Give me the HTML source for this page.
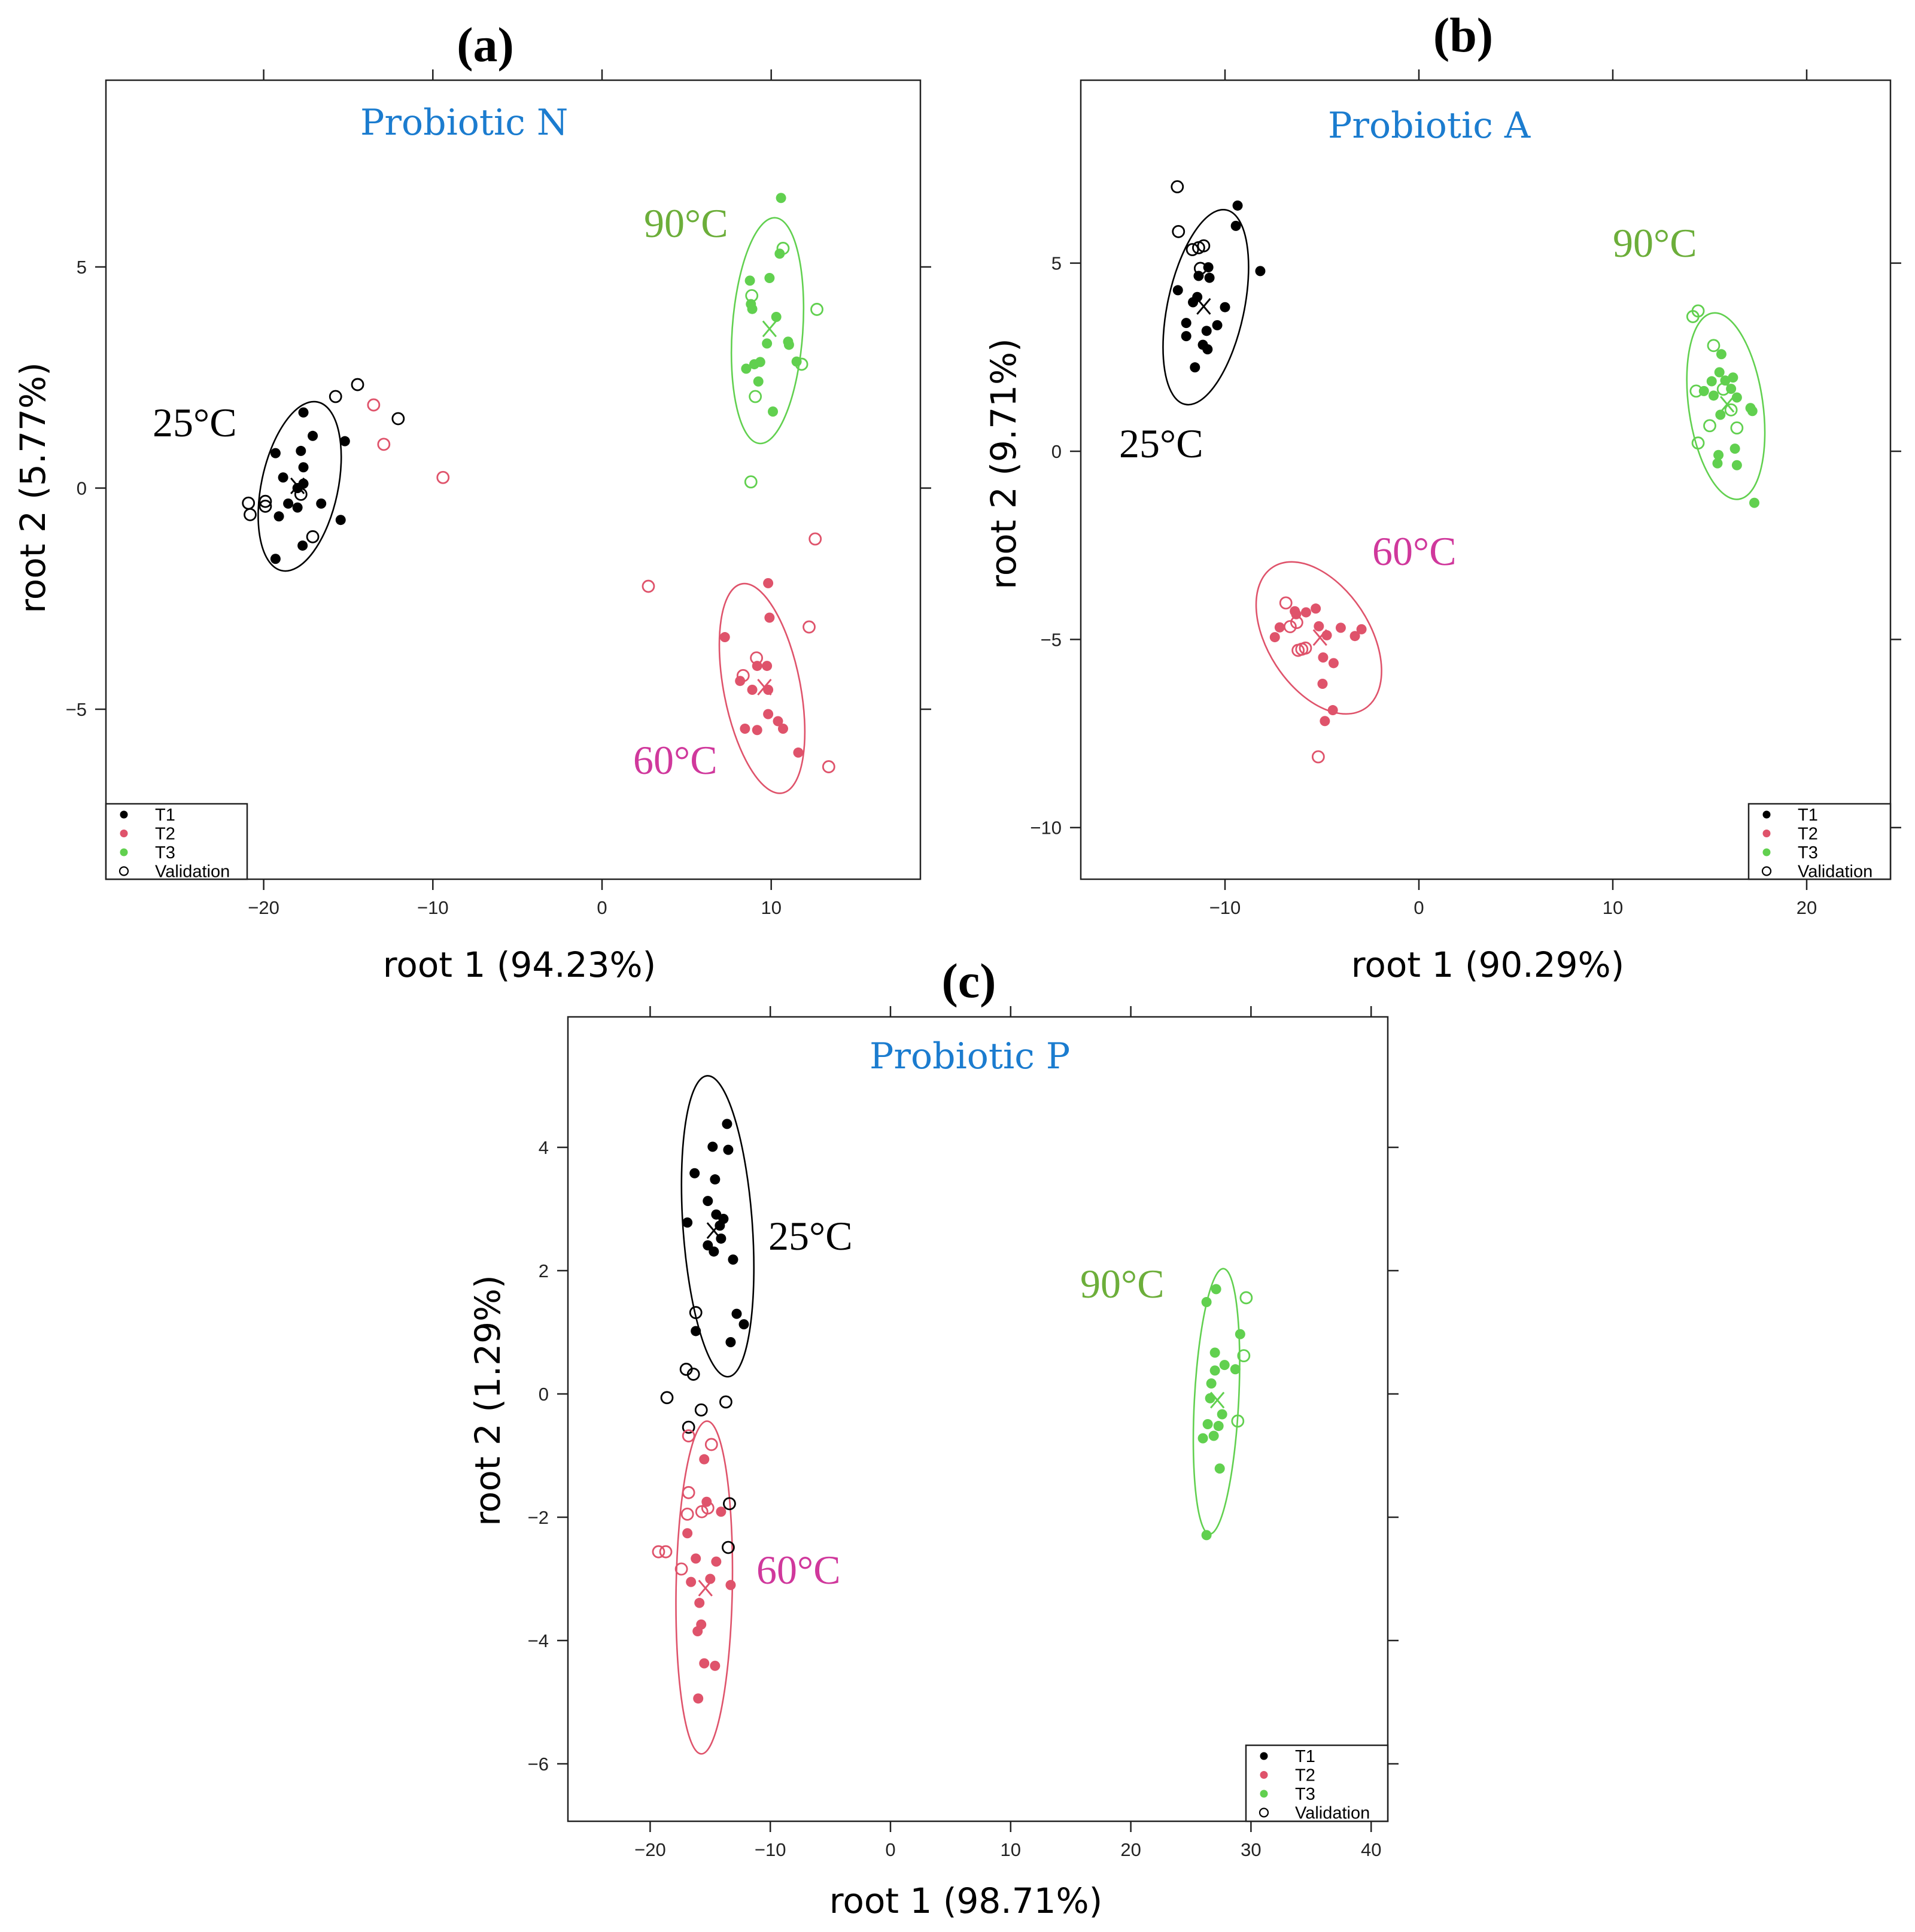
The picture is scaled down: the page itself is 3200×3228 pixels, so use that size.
<!DOCTYPE html>
<html><head><meta charset="utf-8">
<style>
html,body{margin:0;padding:0;background:#fff;}
svg{display:block;}
.tick{font-family:"Liberation Sans",Arial,sans-serif;font-size:31px;fill:#222;}
.axt{font-family:"DejaVu Sans","Liberation Sans",sans-serif;font-size:58px;fill:#000;}
.pl{font-family:"Liberation Serif",serif;font-size:82px;font-weight:bold;fill:#000;}
.ttl{font-family:"DejaVu Serif","Liberation Serif",serif;font-size:60px;fill:#1b7ccf;}
.tmp{font-family:"Liberation Serif",serif;font-size:68px;}
.leg{font-family:"Liberation Sans",Arial,sans-serif;font-size:29px;fill:#000;}
</style></head>
<body>
<svg id="chart" width="3200" height="3228" viewBox="0 0 3200 3228" xmlns="http://www.w3.org/2000/svg"></svg>
<script>
// ---------- Panel (a) Probiotic N ----------
const aT1 = [[-17.65,1.71],[-17.1,1.18],[-15.2,1.06],[-19.3,0.79],[-17.8,0.84],[-17.65,0.47],[-18.85,0.24],[-18,0],[-17.65,0.1],[-18.55,-0.35],[-18,-0.44],[-16.6,-0.35],[-19.1,-0.64],[-15.45,-0.72],[-17.7,-1.3],[-19.3,-1.6]];
const aT1v = [[-20.9,-0.34],[-20.8,-0.6],[-19.9,-0.3],[-19.9,-0.41],[-17.8,-0.14],[-17.1,-1.1],[-15.75,2.07],[-14.45,2.34],[-12.05,1.57]];
const aT2 = [[9.82,-2.15],[9.9,-2.93],[7.26,-3.37],[8.16,-4.36],[9.17,-4.02],[9.75,-4.02],[8.88,-4.56],[9.82,-4.56],[9.82,-5.11],[10.4,-5.27],[8.45,-5.44],[9.17,-5.47],[10.7,-5.44],[11.6,-5.98]];
const aT2v = [[-13.5,1.88],[-12.9,0.99],[-9.4,0.24],[2.74,-2.22],[12.6,-1.15],[12.24,-3.14],[13.4,-6.3],[8.34,-4.24],[9.13,-3.84]];
const aT3 = [[10.58,6.56],[10.5,5.3],[8.74,4.69],[9.9,4.75],[8.88,4.05],[8.8,4.16],[10.3,3.87],[9.75,3.27],[11.0,3.31],[11.05,3.24],[9.35,2.85],[9.0,2.8],[8.52,2.7],[9.24,2.41],[11.5,2.86],[10.1,1.73]];
const aT3v = [[10.7,5.42],[8.85,4.35],[12.7,4.04],[11.8,2.8],[9.06,2.07],[8.8,0.14]];
const aCent = [[-18,0.05],[9.6,-4.5],[9.9,3.6]];
const aEllC = [[-17.87,0.04],[9.46,-4.53],[9.78,3.56]];
// ---------- Panel (b) Probiotic A ----------
const bT1 = [[-9.35,6.53],[-9.44,5.99],[-8.18,4.79],[-10.86,4.89],[-11.36,4.66],[-10.8,4.61],[-12.43,4.28],[-11.43,4.1],[-11.65,3.96],[-10.0,3.83],[-12.0,3.41],[-10.95,3.2],[-10.4,3.35],[-12.0,3.06],[-11.14,2.83],[-10.9,2.71],[-11.55,2.23]];
const bT1v = [[-12.46,7.03],[-12.4,5.84],[-11.68,5.36],[-11.36,5.41],[-11.1,5.46],[-11.27,4.86]];
const bT2 = [[-7.43,-4.94],[-7.18,-4.68],[-6.4,-4.25],[-6.33,-4.33],[-5.82,-4.28],[-5.32,-4.18],[-5.16,-4.65],[-4.75,-4.89],[-4.03,-4.69],[-2.96,-4.73],[-3.3,-4.91],[-4.94,-5.48],[-4.4,-5.63],[-4.97,-6.18],[-4.44,-6.88],[-4.85,-7.17]];
const bT2v = [[-6.86,-4.03],[-6.64,-4.66],[-6.3,-4.55],[-6.23,-5.29],[-6.04,-5.26],[-5.85,-5.23],[-5.19,-8.12]];
const bT3 = [[15.6,2.58],[15.5,2.1],[15.1,1.86],[15.8,1.88],[16.2,1.96],[14.7,1.6],[15.2,1.48],[16.1,1.66],[16.4,1.43],[15.55,0.97],[17.1,1.15],[17.2,1.07],[15.45,-0.1],[15.4,-0.32],[16.3,0.07],[16.4,-0.37],[17.3,-1.37]];
const bT3v = [[14.13,3.58],[14.4,3.73],[15.2,2.81],[14.3,1.6],[15.7,1.65],[15.0,0.68],[16.4,0.62],[14.4,0.22],[16.1,1.1]];
const bCent = [[-11.1,3.85],[-5.1,-4.95],[15.9,1.25]];
const bEllC = [[-10.99,3.83],[-5.16,-4.96],[15.83,1.2]];
// ---------- Panel (c) Probiotic P ----------
const cT1 = [[-13.6,4.38],[-14.8,4.01],[-13.5,3.96],[-16.3,3.58],[-14.6,3.48],[-15.2,3.13],[-14.5,2.91],[-13.9,2.84],[-16.9,2.78],[-14.2,2.73],[-15.2,2.41],[-14.7,2.31],[-14.1,2.52],[-13.1,2.18],[-12.8,1.3],[-12.2,1.13],[-16.2,1.02],[-13.3,0.84]];
const cT1v = [[-16.2,1.32],[-17.0,0.4],[-16.4,0.32],[-18.6,-0.06],[-15.75,-0.26],[-13.7,-0.13],[-16.8,-0.54],[-13.4,-1.78],[-13.5,-2.49]];
const cT2 = [[-15.5,-1.06],[-15.3,-1.75],[-14.1,-1.91],[-16.9,-2.26],[-16.2,-2.67],[-14.5,-2.72],[-16.6,-3.05],[-15.0,-3.0],[-13.3,-3.1],[-15.9,-3.39],[-15.75,-3.74],[-16.05,-3.85],[-15.5,-4.37],[-14.6,-4.41],[-16.0,-4.94]];
const cT2v = [[-16.8,-0.68],[-14.9,-0.82],[-16.8,-1.6],[-16.9,-1.95],[-15.7,-1.91],[-15.2,-1.85],[-19.3,-2.56],[-18.7,-2.56],[-17.4,-2.84]];
const cT3 = [[26.3,1.49],[27.1,1.7],[29.1,0.97],[27.0,0.67],[27.8,0.47],[27.0,0.38],[28.7,0.4],[26.7,0.17],[26.6,-0.07],[27.6,-0.33],[26.4,-0.49],[27.3,-0.52],[26.0,-0.72],[26.9,-0.68],[27.4,-1.21],[26.3,-2.29]];
const cT3v = [[29.6,1.56],[29.4,0.62],[28.9,-0.44]];
const cCent = [[-14.7,2.65],[-15.4,-3.15],[27.2,-0.1]];
const cEllC = [[-14.38,2.72],[-15.5,-3.14],[27.13,-0.12]];

const aXTicks=[-20,-10,0,10], aYTicks=[-5,0,5];
const bXTicks=[-10,0,10,20], bYTicks=[-10,-5,0,5];
const cXTicks=[-20,-10,0,10,20,30,40], cYTicks=[-6,-4,-2,0,2,4];

const NS="http://www.w3.org/2000/svg";
const svg=document.getElementById('chart');
const COL={T1:'#000000',T2:'#df536b',T3:'#61d04f'};
function mk(tag,attrs,parent){const e=document.createElementNS(NS,tag);for(const k in attrs)e.setAttribute(k,attrs[k]);(parent||svg).appendChild(e);return e;}

function panel(cfg){
  const g=mk('g',{});
  
  
  const sx=v=>cfg.x0+cfg.kx*v, sy=v=>cfg.y0-cfg.ky*v;
  const F=cfg.frame;
  const fr=mk('rect',{x:F[0],y:F[1],width:F[2]-F[0],height:F[3]-F[1],fill:'none',stroke:'#222','stroke-width':2.5},g);
  
  
  cfg.xt.forEach(t=>{
    const X=sx(t);
    mk('line',{x1:X,y1:F[3],x2:X,y2:F[3]+18,stroke:'#222','stroke-width':2.5},g);
    mk('line',{x1:X,y1:F[1],x2:X,y2:F[1]-18,stroke:'#222','stroke-width':2.5},g);
    const tl=mk('text',{x:X,y:F[3]+58,'text-anchor':'middle',class:'tick'},g);
    tl.textContent=t<0?'\u2212'+(-t):String(t);
    
    
  });
  cfg.yt.forEach(t=>{
    const Y=sy(t);
    mk('line',{x1:F[0],y1:Y,x2:F[0]-18,y2:Y,stroke:'#222','stroke-width':2.5},g);
    mk('line',{x1:F[2],y1:Y,x2:F[2]+18,y2:Y,stroke:'#222','stroke-width':2.5},g);
    const tl=mk('text',{x:F[0]-32,y:Y+11,'text-anchor':'end',class:'tick'},g);
    tl.textContent=t<0?'\u2212'+(-t):String(t);
    
    
  });
  const ecol=[COL.T1,COL.T2,COL.T3];
  cfg.ell.forEach((c,i)=>{
    const s=cfg.ellShape[i];
    const e=mk('ellipse',{cx:sx(c[0]),cy:sy(c[1]),rx:s[1],ry:s[0],transform:`rotate(${s[2]} ${sx(c[0])} ${sy(c[1])})`,fill:'none',stroke:ecol[i],'stroke-width':2.6},g);
    
    
  });
  const series=[[cfg.t1,'T1',false],[cfg.t2,'T2',false],[cfg.t3,'T3',false],[cfg.t1v,'T1',true],[cfg.t2v,'T2',true],[cfg.t3v,'T3',true]];
  series.forEach(([pts,k,open])=>{
    pts.forEach(p=>{
      const c=open?mk('circle',{cx:sx(p[0]),cy:sy(p[1]),r:9.5,fill:'none',stroke:COL[k],'stroke-width':2.8},g)
                  :mk('circle',{cx:sx(p[0]),cy:sy(p[1]),r:8.5,fill:COL[k]},g);
      
      
    });
  });
  cfg.cent.forEach((p,i)=>{
    const X=sx(p[0]),Y=sy(p[1]);
    const cg=mk('g',{stroke:ecol[i],'stroke-width':3},g);
    
    
    mk('line',{x1:X-11,y1:Y-13,x2:X+11,y2:Y+13},cg);
    mk('line',{x1:X+11,y1:Y-13,x2:X-11,y2:Y+13},cg);
  });
  const pl=mk('text',{x:cfg.pl[0],y:cfg.pl[1],'text-anchor':'middle',class:'pl'},g);
  pl.textContent=cfg.plText;
  
  
  const tt=mk('text',{x:cfg.title[0],y:cfg.title[1],class:'ttl'},g);
  tt.textContent=cfg.titleText;
  
  
  const tcol=['#000000','#d0389c','#6cae3a'], ttxt=['25°C','60°C','90°C'];
  cfg.tlab.forEach((p,i)=>{
    const t=mk('text',{x:p[0],y:p[1],class:'tmp',fill:tcol[i]},g);
    t.textContent=ttxt[i];
    
    
  });
  const xa=mk('text',{x:cfg.xtit[0],y:cfg.xtit[1],'text-anchor':'middle',class:'axt'},g);
  xa.textContent=cfg.xtitText;
  
  
  const ya=mk('text',{x:0,y:0,'text-anchor':'middle',class:'axt',transform:`translate(${cfg.ytit[0]} ${cfg.ytit[1]}) rotate(-90)`},g);
  ya.textContent=cfg.ytitText;
  
  
  const L=cfg.leg;
  const lg=mk('g',{},g);
  
  
  mk('rect',{x:L[0],y:L[1],width:L[2]-L[0],height:L[3]-L[1],fill:'#fff',stroke:'#222','stroke-width':2.5},lg);
  const names=['T1','T2','T3','Validation'];
  names.forEach((n,i)=>{
    const Y=L[1]+18+i*31.5;
    if(n==='Validation') mk('circle',{cx:L[0]+30,cy:Y,r:7,fill:'none',stroke:'#000','stroke-width':2.2},lg);
    else mk('circle',{cx:L[0]+30,cy:Y,r:6.5,fill:COL[n]},lg);
    const t=mk('text',{x:L[0]+82,y:Y+10,class:'leg'},lg);
    t.textContent=n;
    
    
  });
}

panel({id:'a',x0:1006,kx:28.27,y0:815.5,ky:73.9,frame:[177,134,1538,1469],xt:aXTicks,yt:aYTicks,
  t1:aT1,t1v:aT1v,t2:aT2,t2v:aT2v,t3:aT3,t3v:aT3v,cent:aCent,ell:aEllC,
  ellShape:[[144,64,12],[178,64,-11],[189,59,4]],
  pl:[811,102],plText:'(a)',title:[602,225],titleText:'Probiotic N',
  tlab:[[255,729],[1058,1293],[1076,396]],
  xtit:[868,1632],xtitText:'root 1 (94.23%)',ytit:[75,815],ytitText:'root 2 (5.77%)',
  leg:[177,1343,413,1469]});
panel({id:'b',x0:2371,kx:32.4,y0:754,ky:62.87,frame:[1806,134,3159,1469],xt:bXTicks,yt:bYTicks,
  t1:bT1,t1v:bT1v,t2:bT2,t2v:bT2v,t3:bT3,t3v:bT3v,cent:bCent,ell:bEllC,
  ellShape:[[166,64,12],[141,85,-33],[157,62,-8]],
  pl:[2445,86],plText:'(b)',title:[2219,230],titleText:'Probiotic A',
  tlab:[[1870,764],[2293,944],[2695,429]],
  xtit:[2486,1632],xtitText:'root 1 (90.29%)',ytit:[1697,775],ytitText:'root 2 (9.71%)',
  leg:[2922,1343,3159,1469]});
panel({id:'c',x0:1488,kx:20.08,y0:2329,ky:103,frame:[949,1699,2319,3043],xt:cXTicks,yt:cYTicks,
  t1:cT1,t1v:cT1v,t2:cT2,t2v:cT2v,t3:cT3,t3v:cT3v,cent:cCent,ell:cEllC,
  ellShape:[[252,58,-4],[278,47,1],[222,37,3]],
  pl:[1619,1666],plText:'(c)',title:[1453,1785],titleText:'Probiotic P',
  tlab:[[1284,2088],[1264,2646],[1805,2168]],
  xtit:[1614,3196],xtitText:'root 1 (98.71%)',ytit:[835,2340],ytitText:'root 2 (1.29%)',
  leg:[2082,2916,2319,3043]});
</script>
</body></html>
